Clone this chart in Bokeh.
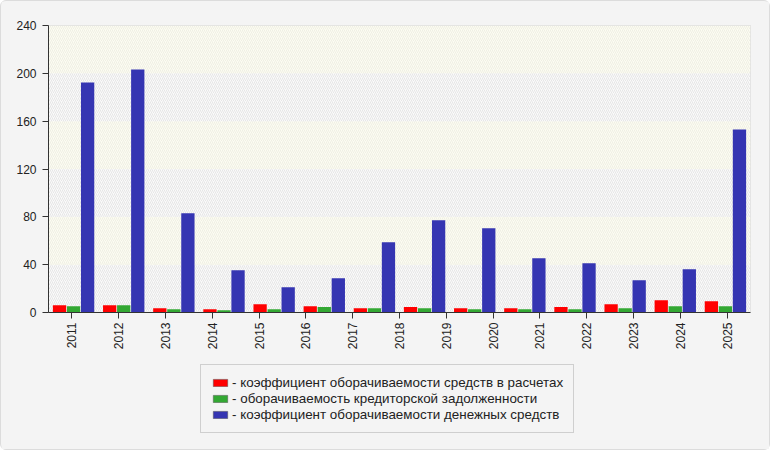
import numpy as np
from bokeh.plotting import figure
from bokeh.layouts import column
from bokeh.models import (Range1d, LinearAxis, Grid, FixedTicker,
                          Legend, LegendItem, ColumnDataSource)
from bokeh.transform import dodge
from bokeh.embed import file_html
from bokeh.resources import INLINE

# ---------------- data ----------------
years = ["2011", "2012", "2013", "2014", "2015", "2016", "2017", "2018",
         "2019", "2020", "2021", "2022", "2023", "2024", "2025"]
series_names = [
    "коэффициент оборачиваемости средств в расчетах",
    "оборачиваемость кредиторской задолженности",
    "коэффициент оборачиваемости денежных средств",
]
receivables_turnover = [6.1, 6.1, 3.6, 2.8, 7.0, 5.3, 3.6, 4.5, 3.6, 3.6, 4.5, 7.0, 10.3, 9.5]
payables_turnover = [5.3, 6.1, 2.8, 1.9, 2.8, 4.5, 3.6, 3.6, 2.8, 2.8, 2.8, 3.6, 5.3, 5.3]
cash_turnover = [192.4, 203.2, 83.0, 35.3, 21.2, 28.7, 58.7, 77.1, 70.4, 45.4, 41.2, 27.0, 36.2, 153.1]
y_ticks = [0, 40, 80, 120, 160, 200, 240]
colors = ["#ff0000", "#33a833", "#3535b2"]

FONT = "Liberation Sans"
BG = "#f4f4f4"
n = len(cash_turnover)

src = ColumnDataSource(dict(
    x=np.arange(n) + 0.5,
    r=receivables_turnover,
    g=payables_turnover,
    b=cash_turnover,
))
cols = ["r", "g", "b"]

p = figure(width=768, height=360,
           x_range=Range1d(0, n), y_range=Range1d(y_ticks[0], y_ticks[-1]),
           output_backend="svg", toolbar_location=None,
           x_axis_location=None,
           min_border_left=47, min_border_right=19,
           min_border_top=24, min_border_bottom=49)
p.border_fill_color = BG
p.background_fill_color = "#fcfcf3"
p.outline_line_color = "#dcdcdc"

# alternating hatched bands
bottoms = y_ticks[:-1]
tops = y_ticks[1:]
band_fill = ["#fafafa" if i % 2 == 0 else "#fcfcf2" for i in range(len(bottoms))]
band_hatch = ["#e6e6e6" if i % 2 == 0 else "#efefe4" for i in range(len(bottoms))]
p.quad(left=0, right=n, bottom=bottoms, top=tops, fill_color=band_fill, line_color=None,
       hatch_pattern="/", hatch_color=band_hatch, hatch_scale=4, hatch_weight=1)

# grids
p.xgrid.visible = False
p.ygrid.ticker = FixedTicker(ticks=y_ticks)
p.ygrid.grid_line_color = "#dcdcdc"
p.ygrid.grid_line_dash = "4 3"

# year axis (labels spaced independently of the bar groups, as in the original)
year_pos = list(range(len(years)))
p.extra_x_ranges = {"years": Range1d(-0.5, len(years) - 0.5)}
year_ticker = FixedTicker(ticks=year_pos)
xaxis = LinearAxis(x_range_name="years", ticker=year_ticker,
                   major_label_overrides={i: y for i, y in zip(year_pos, years)})
p.add_layout(xaxis, "below")
p.add_layout(Grid(dimension=0, ticker=year_ticker, x_range_name="years",
                  grid_line_color="#dcdcdc", grid_line_dash="4 3"))

# bars
w = 0.265
offsets = [-0.28, 0.0, 0.28]
for c, col, off in zip(colors, cols, offsets):
    p.vbar(x=dodge("x", off, range=p.x_range), top=col, width=w, source=src,
           fill_color=c, line_color=None)

# axes styling
yaxis = p.yaxis[0]
yaxis.ticker = FixedTicker(ticks=y_ticks)
for ax in (xaxis, yaxis):
    ax.axis_line_color = "#333333"
    ax.major_tick_line_color = "#333333"
    ax.major_tick_out = 6
    ax.major_tick_in = 0
    ax.minor_tick_out = 0
    ax.minor_tick_in = 0
    ax.major_label_text_font = FONT
    ax.major_label_text_font_size = "12px"
    ax.major_label_text_color = "#222222"
yaxis.major_label_standoff = 6
xaxis.major_label_orientation = np.pi / 2
xaxis.major_label_standoff = 4

# legend panel (separate strip below the chart); hidden proxies carry the swatches
pl = figure(width=768, height=88, x_range=Range1d(0, 1), y_range=Range1d(0, 1),
            output_backend="svg", toolbar_location=None,
            x_axis_location=None, y_axis_location=None,
            min_border=0)
pl.grid.visible = False
pl.border_fill_color = BG
pl.background_fill_color = BG
pl.outline_line_color = None
proxies = [pl.vbar(x="x", top=col, width=0.1, source=src, fill_color=c,
                   line_color="#555555", line_alpha=0.5, visible=False)
           for c, col in zip(colors, cols)]

legend = Legend(items=[LegendItem(label="- " + s, renderers=[r]) for s, r in zip(series_names, proxies)],
                location=(152, 16))
legend.label_text_font = FONT
legend.label_text_font_size = "13.4px"
legend.label_text_color = "#222222"
legend.glyph_width = 18
legend.glyph_height = 9
legend.label_standoff = 3
legend.label_height = 13
legend.spacing = 1
legend.padding = 10
legend.margin = 0
legend.border_line_color = "#aaaaaa"
legend.background_fill_color = BG
legend.background_fill_alpha = 1.0
pl.add_layout(legend)

layout = column(p, pl, spacing=0,
                styles={"border": "1px solid #dcdcdc", "border-radius": "6px",
                        "background-color": BG})

open("out.html", "w").write(file_html(layout, INLINE))
